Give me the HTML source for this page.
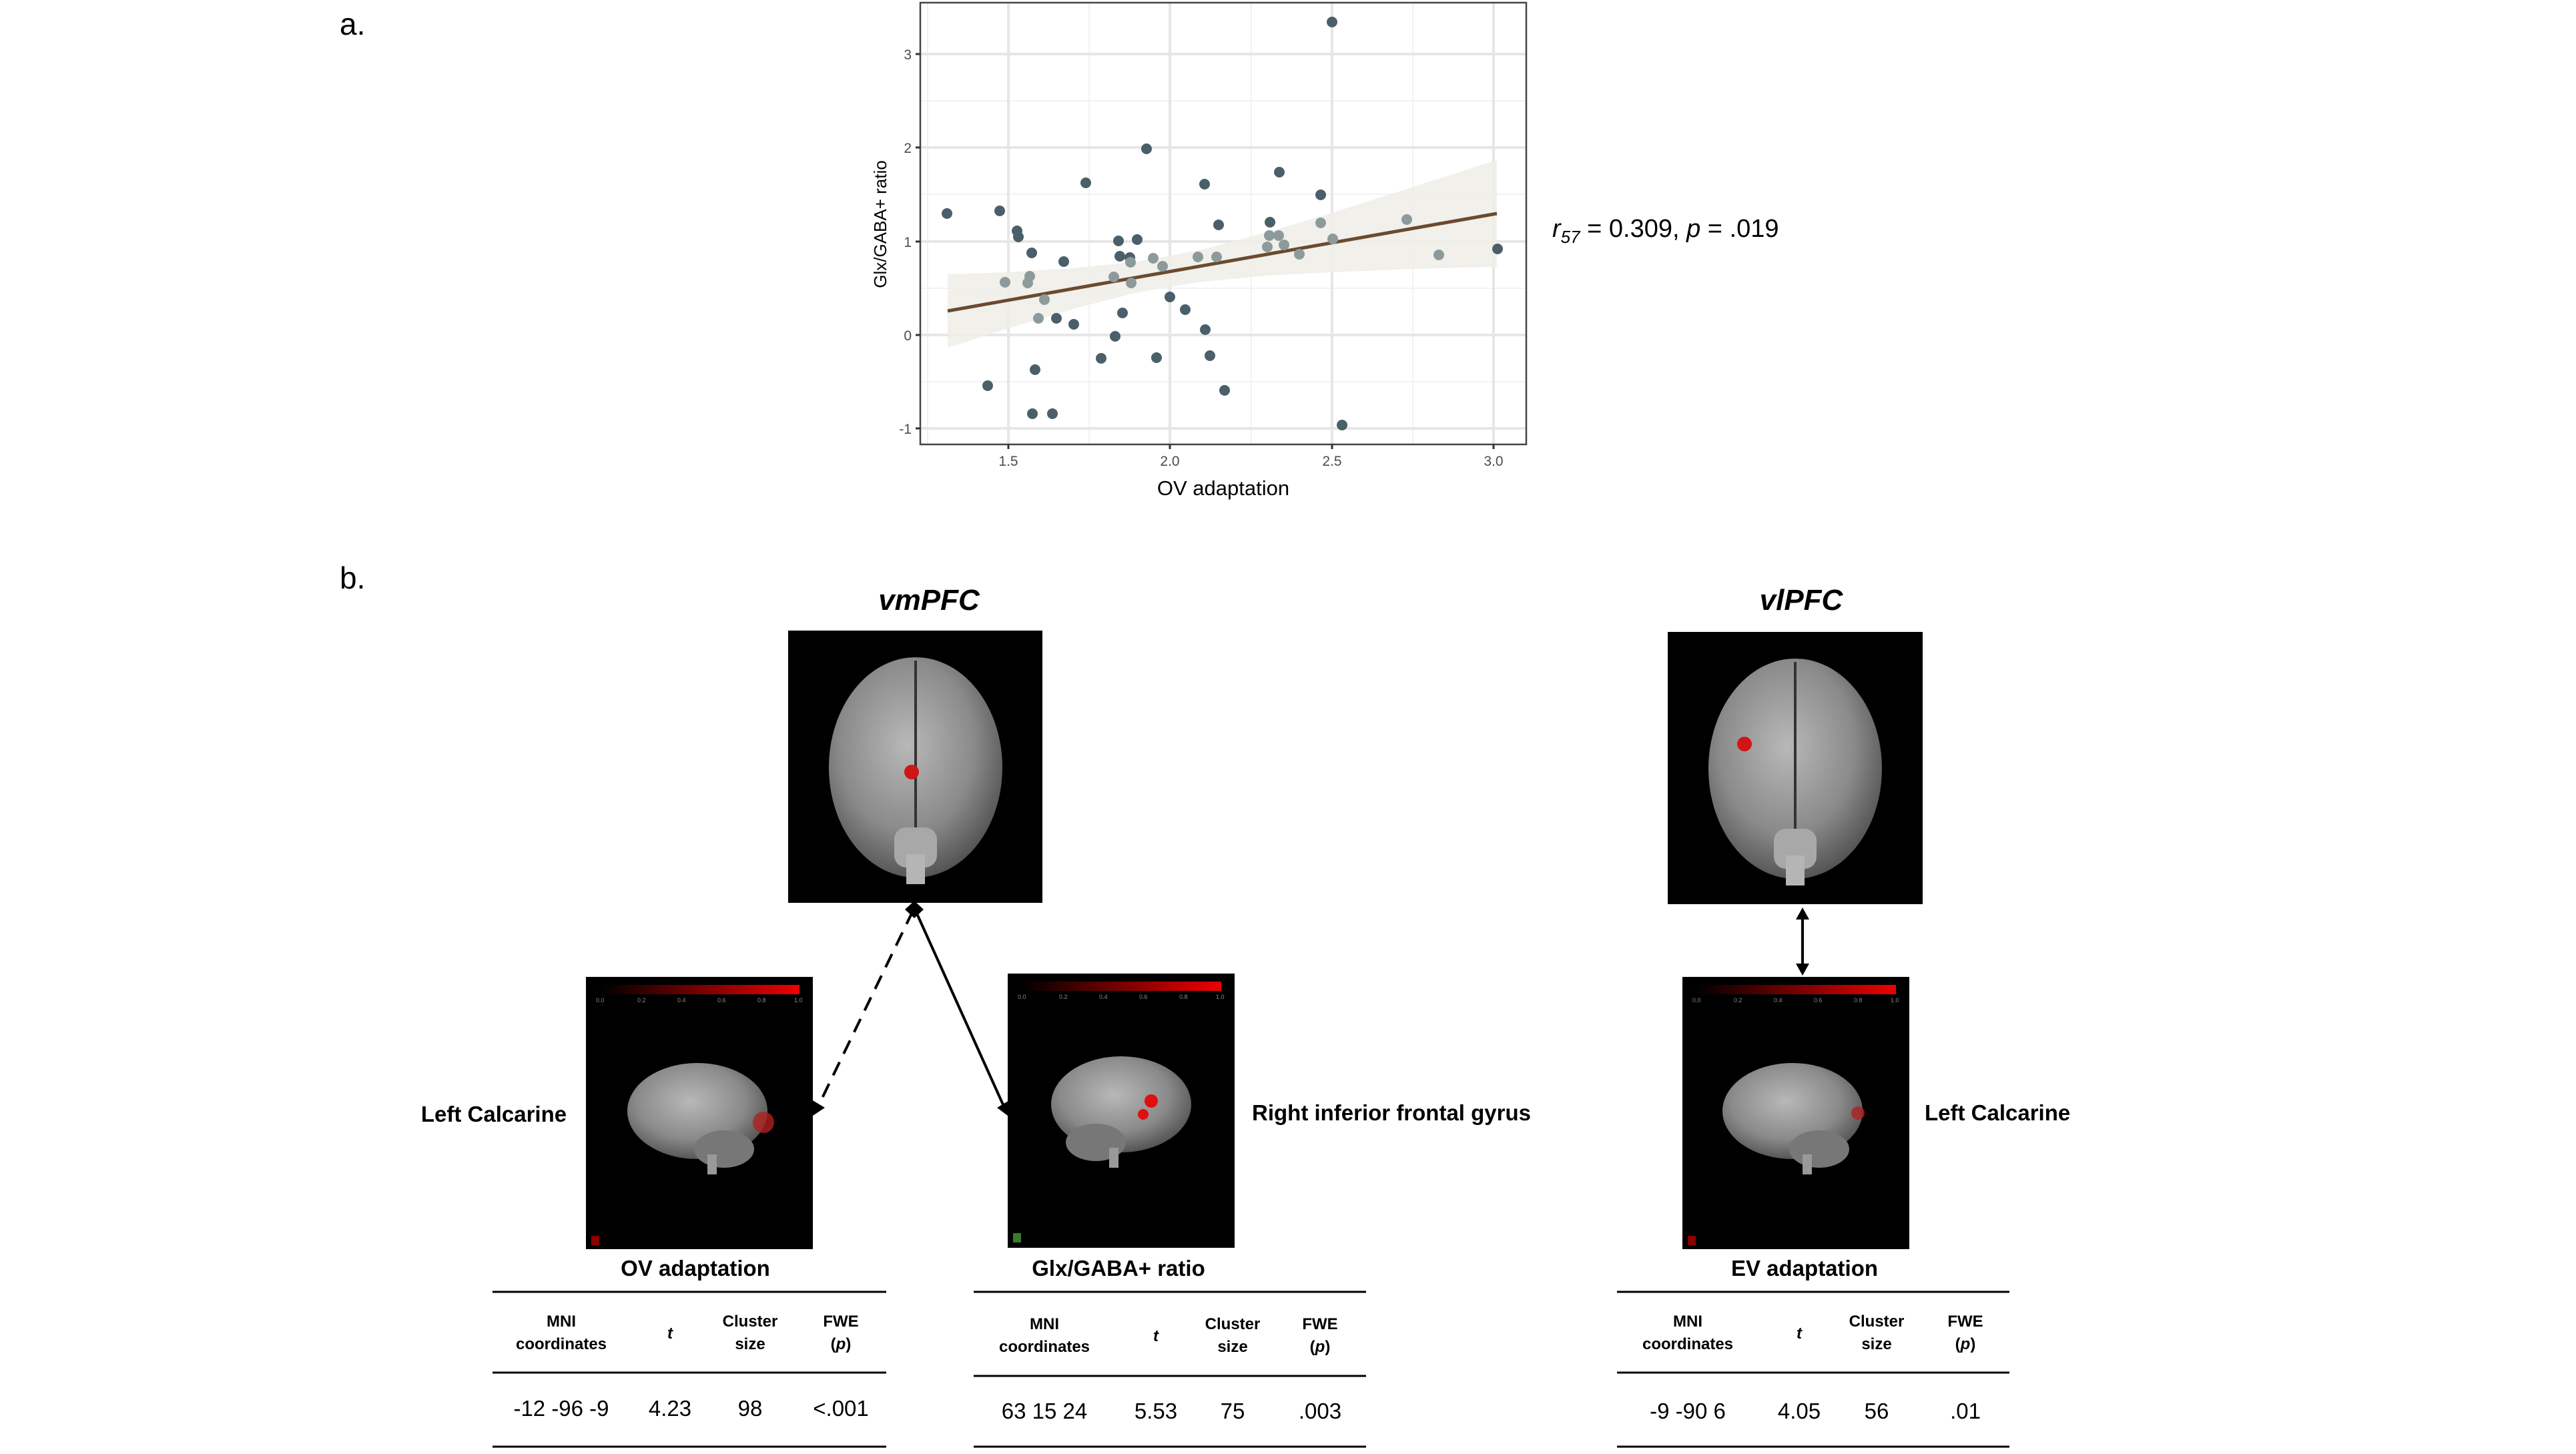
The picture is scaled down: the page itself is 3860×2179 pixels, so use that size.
<!DOCTYPE html>
<html><head><meta charset="utf-8"><style>
html,body{margin:0;padding:0;background:#fff;}
svg{display:block;}
text{font-family:"Liberation Sans",sans-serif;}
</style></head><body>
<svg width="3860" height="2179" viewBox="0 0 3860 2179" xmlns="http://www.w3.org/2000/svg">
<defs>
<radialGradient id="gb" cx="45%" cy="40%" r="65%">
<stop offset="0" stop-color="#b8b8b8"/><stop offset="0.6" stop-color="#8a8a8a"/><stop offset="1" stop-color="#4a4a4a"/>
</radialGradient>
<linearGradient id="cb" x1="0" x2="1"><stop offset="0" stop-color="#000"/><stop offset="1" stop-color="#e00"/></linearGradient>
</defs>
<!-- labels a, b -->
<text x="509" y="52" font-size="46">a.</text>
<text x="509" y="882" font-size="46">b.</text>

<!-- scatter panel -->
<rect x="1379" y="4" width="908" height="662" fill="#fff"/>
<g stroke="#f2f2f2" stroke-width="2">
<line x1="1390" y1="4" x2="1390" y2="666"/><line x1="1632" y1="4" x2="1632" y2="666"/><line x1="1875" y1="4" x2="1875" y2="666"/><line x1="2117" y1="4" x2="2117" y2="666"/>
<line x1="1379" y1="151" x2="2287" y2="151"/><line x1="1379" y1="291" x2="2287" y2="291"/><line x1="1379" y1="432" x2="2287" y2="432"/><line x1="1379" y1="572" x2="2287" y2="572"/>
</g>
<g stroke="#e6e6e6" stroke-width="4">
<line x1="1511" y1="4" x2="1511" y2="666"/><line x1="1753" y1="4" x2="1753" y2="666"/><line x1="1996" y1="4" x2="1996" y2="666"/><line x1="2238" y1="4" x2="2238" y2="666"/>
<line x1="1379" y1="81" x2="2287" y2="81"/><line x1="1379" y1="221" x2="2287" y2="221"/><line x1="1379" y1="362" x2="2287" y2="362"/><line x1="1379" y1="502" x2="2287" y2="502"/><line x1="1379" y1="642" x2="2287" y2="642"/>
</g>
<polygon fill="#efede8" fill-opacity="0.85" points="1420,411 1511,408 1608,402 1705,392 1802,374 1899,348 1996,319 2093,288 2190,257 2243,240 2243,400 2190,401 2093,404 1996,408 1899,413 1802,422 1705,438 1608,463 1511,492 1420,521"/>
<g fill="#4b5f6a">
<circle cx="1419" cy="320" r="8"/><circle cx="1498" cy="316" r="8"/><circle cx="1480" cy="578" r="8"/><circle cx="1524" cy="346" r="8"/><circle cx="1526" cy="355" r="8"/><circle cx="1546" cy="379" r="8"/><circle cx="1583" cy="477" r="8"/><circle cx="1551" cy="554" r="8"/><circle cx="1547" cy="620" r="8"/><circle cx="1577" cy="620" r="8"/><circle cx="1594" cy="392" r="8"/><circle cx="1609" cy="486" r="8"/><circle cx="1627" cy="274" r="8"/><circle cx="1650" cy="537" r="8"/><circle cx="1671" cy="504" r="8"/><circle cx="1676" cy="361" r="8"/><circle cx="1678" cy="384" r="8"/><circle cx="1682" cy="469" r="8"/><circle cx="1693" cy="386" r="8"/><circle cx="1704" cy="359" r="8"/><circle cx="1718" cy="223" r="8"/><circle cx="1733" cy="536" r="8"/><circle cx="1753" cy="445" r="8"/><circle cx="1776" cy="464" r="8"/><circle cx="1805" cy="276" r="8"/><circle cx="1806" cy="494" r="8"/><circle cx="1813" cy="533" r="8"/><circle cx="1826" cy="337" r="8"/><circle cx="1835" cy="585" r="8"/><circle cx="1903" cy="333" r="8"/><circle cx="1917" cy="258" r="8"/><circle cx="1979" cy="292" r="8"/><circle cx="1996" cy="33" r="8"/><circle cx="2011" cy="637" r="8"/><circle cx="2244" cy="373" r="8"/>
</g>
<line x1="1420" y1="466" x2="2243" y2="320" stroke="#6b4a2e" stroke-width="5"/>
<g fill="#8d9a9b">
<circle cx="1506" cy="423" r="8"/><circle cx="1543" cy="414" r="8"/><circle cx="1540" cy="424" r="8"/><circle cx="1565" cy="449" r="8"/><circle cx="1556" cy="477" r="8"/><circle cx="1669" cy="415" r="8"/><circle cx="1694" cy="393" r="8"/><circle cx="1695" cy="424" r="8"/><circle cx="1728" cy="387" r="8"/><circle cx="1742" cy="399" r="8"/><circle cx="1795" cy="385" r="8"/><circle cx="1823" cy="385" r="8"/><circle cx="1902" cy="353" r="8"/><circle cx="1916" cy="353" r="8"/><circle cx="1899" cy="370" r="8"/><circle cx="1924" cy="367" r="8"/><circle cx="1947" cy="381" r="8"/><circle cx="1979" cy="334" r="8"/><circle cx="1997" cy="358" r="8"/><circle cx="2108" cy="329" r="8"/><circle cx="2156" cy="382" r="8"/>
</g>
<rect x="1379" y="4" width="908" height="662" fill="none" stroke="#444" stroke-width="2.5"/>
<g stroke="#333" stroke-width="3">
<line x1="1372" y1="81" x2="1379" y2="81"/><line x1="1372" y1="221" x2="1379" y2="221"/><line x1="1372" y1="362" x2="1379" y2="362"/><line x1="1372" y1="502" x2="1379" y2="502"/><line x1="1372" y1="642" x2="1379" y2="642"/>
<line x1="1511" y1="666" x2="1511" y2="673"/><line x1="1753" y1="666" x2="1753" y2="673"/><line x1="1996" y1="666" x2="1996" y2="673"/><line x1="2238" y1="666" x2="2238" y2="673"/>
</g>
<g font-size="21" fill="#4d4d4d" text-anchor="end">
<text x="1366" y="89">3</text><text x="1366" y="229">2</text><text x="1366" y="370">1</text><text x="1366" y="510">0</text><text x="1366" y="650">-1</text>
</g>
<g font-size="21" fill="#4d4d4d" text-anchor="middle">
<text x="1511" y="698">1.5</text><text x="1753" y="698">2.0</text><text x="1996" y="698">2.5</text><text x="2238" y="698">3.0</text>
</g>
<text x="1833" y="742" font-size="31" text-anchor="middle">OV adaptation</text>
<text transform="translate(1328,336) rotate(-90)" font-size="26" text-anchor="middle">Glx/GABA+ ratio</text>
<text x="2326" y="355" font-size="38"><tspan font-style="italic">r</tspan><tspan font-style="italic" font-size="26" dy="9">57</tspan><tspan dy="-9"> = 0.309, </tspan><tspan font-style="italic">p</tspan><tspan> = .019</tspan></text>

<!-- part b titles -->
<text x="1392" y="914" font-size="44" font-weight="bold" font-style="italic" text-anchor="middle">vmPFC</text>
<text x="2699" y="914" font-size="44" font-weight="bold" font-style="italic" text-anchor="middle">vlPFC</text>

<!-- top brains -->
<rect x="1181" y="945" width="381" height="408" fill="#000"/>
<g>
<ellipse cx="1372" cy="1150" rx="130" ry="165" fill="url(#gb)"/>
<line x1="1372" y1="990" x2="1372" y2="1280" stroke="#333" stroke-width="4"/>
<rect x="1340" y="1240" width="64" height="60" rx="18" fill="#a8a8a8"/>
<rect x="1358" y="1280" width="28" height="45" fill="#b5b5b5"/>
<circle cx="1366" cy="1157" r="11" fill="#d01515"/>
</g>
<rect x="2499" y="947" width="382" height="408" fill="#000"/>
<g>
<ellipse cx="2690" cy="1152" rx="130" ry="165" fill="url(#gb)"/>
<line x1="2690" y1="992" x2="2690" y2="1282" stroke="#333" stroke-width="4"/>
<rect x="2658" y="1242" width="64" height="60" rx="18" fill="#a8a8a8"/>
<rect x="2676" y="1282" width="28" height="45" fill="#b5b5b5"/>
<circle cx="2614" cy="1115" r="11" fill="#d01515"/>
</g>

<!-- lateral boxes -->
<g>
<rect x="878" y="1464" width="340" height="408" fill="#000"/>
<rect x="898" y="1476" width="300" height="14" fill="url(#cb)"/>
<g font-size="9" fill="#888"><text x="893" y="1502">0.0</text><text x="955" y="1502">0.2</text><text x="1015" y="1502">0.4</text><text x="1075" y="1502">0.6</text><text x="1135" y="1502">0.8</text><text x="1190" y="1502">1.0</text></g>
<ellipse cx="1045" cy="1665" rx="105" ry="72" fill="url(#gb)"/>
<ellipse cx="1085" cy="1722" rx="45" ry="28" fill="#777"/>
<rect x="1060" y="1730" width="14" height="30" fill="#999"/>
<circle cx="1144" cy="1682" r="16" fill="#b02020" opacity="0.8"/>
<rect x="886" y="1852" width="12" height="14" fill="#8b0000"/>
</g>
<g>
<rect x="1510" y="1459" width="340" height="411" fill="#000"/>
<rect x="1530" y="1471" width="300" height="14" fill="url(#cb)"/>
<g font-size="9" fill="#888"><text x="1525" y="1497">0.0</text><text x="1587" y="1497">0.2</text><text x="1647" y="1497">0.4</text><text x="1707" y="1497">0.6</text><text x="1767" y="1497">0.8</text><text x="1822" y="1497">1.0</text></g>
<ellipse cx="1680" cy="1655" rx="105" ry="72" fill="url(#gb)"/>
<ellipse cx="1642" cy="1712" rx="45" ry="28" fill="#777"/>
<rect x="1662" y="1720" width="14" height="30" fill="#999"/>
<circle cx="1725" cy="1650" r="10" fill="#e01010"/><circle cx="1713" cy="1670" r="8" fill="#e01010"/>
<rect x="1518" y="1848" width="12" height="14" fill="#3a7a2a"/>
</g>
<g>
<rect x="2521" y="1464" width="340" height="408" fill="#000"/>
<rect x="2541" y="1476" width="300" height="14" fill="url(#cb)"/>
<g font-size="9" fill="#888"><text x="2536" y="1502">0.0</text><text x="2598" y="1502">0.2</text><text x="2658" y="1502">0.4</text><text x="2718" y="1502">0.6</text><text x="2778" y="1502">0.8</text><text x="2833" y="1502">1.0</text></g>
<ellipse cx="2686" cy="1665" rx="105" ry="72" fill="url(#gb)"/>
<ellipse cx="2726" cy="1722" rx="45" ry="28" fill="#777"/>
<rect x="2701" y="1730" width="14" height="30" fill="#999"/>
<circle cx="2784" cy="1668" r="10" fill="#b02020" opacity="0.8"/>
<rect x="2529" y="1852" width="12" height="14" fill="#8b0000"/>
</g>

<!-- arrows -->
<line x1="1368" y1="1365" x2="1224" y2="1662" stroke="#000" stroke-width="4" stroke-dasharray="22,14"/>
<line x1="1372" y1="1365" x2="1506" y2="1662" stroke="#000" stroke-width="4"/>
<polygon points="1370,1350 1384,1363 1370,1376 1356,1363" fill="#000"/>
<polygon points="1218,1672 1216,1648 1236,1660" fill="#000"/>
<polygon points="1510,1672 1494,1660 1514,1648" fill="#000"/>
<line x1="2701" y1="1372" x2="2701" y2="1450" stroke="#000" stroke-width="4"/>
<polygon points="2701,1360 2691,1378 2711,1378" fill="#000"/>
<polygon points="2701,1462 2691,1444 2711,1444" fill="#000"/>

<!-- side labels -->
<g font-size="33" font-weight="bold">
<text x="740" y="1681" text-anchor="middle">Left Calcarine</text>
<text x="1876" y="1679">Right inferior frontal gyrus</text>
<text x="2884" y="1679">Left Calcarine</text>
</g>
<g font-size="33" font-weight="bold" text-anchor="middle">
<text x="1042" y="1912">OV adaptation</text>
<text x="1676" y="1912">Glx/GABA+ ratio</text>
<text x="2704" y="1912">EV adaptation</text>
</g>

<!-- tables -->
<g stroke="#000" stroke-width="3">
<line x1="738" y1="1936" x2="1328" y2="1936"/><line x1="738" y1="2057" x2="1328" y2="2057"/><line x1="738" y1="2168" x2="1328" y2="2168"/>
<line x1="1459" y1="1936" x2="2047" y2="1936"/><line x1="1459" y1="2062" x2="2047" y2="2062"/><line x1="1459" y1="2168" x2="2047" y2="2168"/>
<line x1="2423" y1="1936" x2="3011" y2="1936"/><line x1="2423" y1="2057" x2="3011" y2="2057"/><line x1="2423" y1="2168" x2="3011" y2="2168"/>
</g>
<g font-size="24" font-weight="bold" text-anchor="middle">
<text x="841" y="1988">MNI</text><text x="841" y="2022">coordinates</text>
<text x="1004" y="2006" font-style="italic">t</text>
<text x="1124" y="1988">Cluster</text><text x="1124" y="2022">size</text>
<text x="1260" y="1988">FWE</text><text x="1260" y="2022">(<tspan font-style="italic">p</tspan>)</text>
<text x="1565" y="1992">MNI</text><text x="1565" y="2026">coordinates</text>
<text x="1732" y="2010" font-style="italic">t</text>
<text x="1847" y="1992">Cluster</text><text x="1847" y="2026">size</text>
<text x="1978" y="1992">FWE</text><text x="1978" y="2026">(<tspan font-style="italic">p</tspan>)</text>
<text x="2529" y="1988">MNI</text><text x="2529" y="2022">coordinates</text>
<text x="2696" y="2006" font-style="italic">t</text>
<text x="2812" y="1988">Cluster</text><text x="2812" y="2022">size</text>
<text x="2945" y="1988">FWE</text><text x="2945" y="2022">(<tspan font-style="italic">p</tspan>)</text>
</g>
<g font-size="33" text-anchor="middle">
<text x="841" y="2122">-12 -96 -9</text><text x="1004" y="2122">4.23</text><text x="1124" y="2122">98</text><text x="1260" y="2122">&lt;.001</text>
<text x="1565" y="2126">63 15 24</text><text x="1732" y="2126">5.53</text><text x="1847" y="2126">75</text><text x="1978" y="2126">.003</text>
<text x="2529" y="2126">-9 -90 6</text><text x="2696" y="2126">4.05</text><text x="2812" y="2126">56</text><text x="2945" y="2126">.01</text>
</g>
</svg>
</body></html>
